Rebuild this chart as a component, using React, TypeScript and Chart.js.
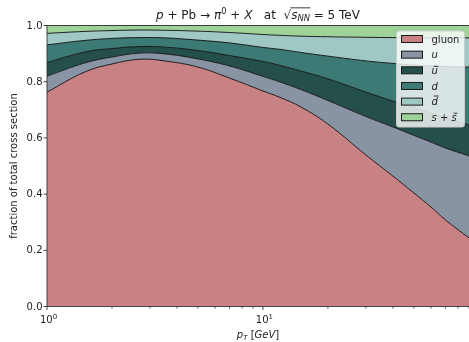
import React, { useEffect, useRef } from "react";
import { Chart, registerables } from "chart.js";

Chart.register(...registerables);

// ---- data (fraction of total cross section) ----
const pT = [1, 1.5, 2, 2.7, 3.5, 5, 7, 10, 12, 15, 20, 30, 40, 50, 60, 70, 90];
const gluonFrac = [0.763, 0.835, 0.863, 0.880, 0.874, 0.852, 0.813, 0.767, 0.744, 0.710, 0.649, 0.539, 0.464, 0.404, 0.354, 0.308, 0.244];
const uFrac = [0.057, 0.032, 0.025, 0.022, 0.025, 0.029, 0.043, 0.052, 0.055, 0.062, 0.084, 0.137, 0.175, 0.205, 0.231, 0.256, 0.292];
const uBarFrac = [0.048, 0.039, 0.030, 0.023, 0.024, 0.030, 0.037, 0.053, 0.059, 0.066, 0.077, 0.087, 0.092, 0.099, 0.104, 0.107, 0.110];
const dFrac = [0.063, 0.041, 0.036, 0.032, 0.033, 0.037, 0.045, 0.050, 0.057, 0.066, 0.081, 0.111, 0.134, 0.151, 0.167, 0.183, 0.206];
const dBarFrac = [0.041, 0.032, 0.028, 0.027, 0.027, 0.032, 0.037, 0.046, 0.050, 0.058, 0.069, 0.084, 0.092, 0.098, 0.100, 0.102, 0.104];
const sFrac = [0.028, 0.021, 0.018, 0.016, 0.017, 0.020, 0.025, 0.032, 0.035, 0.038, 0.040, 0.042, 0.043, 0.043, 0.044, 0.044, 0.044];

const seriesNames = ["gluon", "u", "ū", "d", "d̄", "s + s̄"];
const seriesColors = ["#c98283", "#8893a4", "#244f4b", "#3b7a75", "#9fc8c5", "#9dd398"];

const yTicks = [0, 0.2, 0.4, 0.6, 0.8, 1.0];
const yTickLabels = ["0.0", "0.2", "0.4", "0.6", "0.8", "1.0"];
const xMajorTicks = [1, 10];
const xMajorExponents = ["0", "1"];
const xMinorTicks = [2, 3, 4, 5, 6, 7, 8, 9, 20, 30, 40, 50, 60, 70, 80, 90];

const FONT = '"DejaVu Sans", sans-serif';
const TEXT = "#222222";

type Run = { t: string; it?: boolean; sz?: number; dy?: number; rad?: "start" | "end"; bar?: number };

function fontOf(r: Run, size: number) {
  const s = size * (r.sz || 1);
  return `${r.it ? "italic " : ""}${s}px ${FONT}`;
}

function runsWidth(ctx: CanvasRenderingContext2D, runs: Run[], size: number) {
  let w = 0;
  for (const r of runs) {
    ctx.font = fontOf(r, size);
    w += ctx.measureText(r.t).width;
  }
  return w;
}

function drawRuns(ctx: CanvasRenderingContext2D, runs: Run[], size: number, x0: number, baseline: number, align: "center" | "left") {
  let x = align === "center" ? x0 - runsWidth(ctx, runs, size) / 2 : x0;
  ctx.textAlign = "left";
  ctx.textBaseline = "alphabetic";
  let radStart = 0;
  for (const r of runs) {
    ctx.font = fontOf(r, size);
    const w = ctx.measureText(r.t).width;
    ctx.fillText(r.t, x, baseline + (r.dy || 0));
    if (r.bar) {
      ctx.beginPath();
      ctx.lineWidth = 0.9;
      ctx.strokeStyle = ctx.fillStyle as string;
      const off = r.it ? 1.2 : 0;
      ctx.moveTo(x + 1 + off, baseline - r.bar);
      ctx.lineTo(x + w - 0.5 + off, baseline - r.bar);
      ctx.stroke();
    }
    if (r.rad === "start") radStart = x + w - 0.8;
    x += w;
    if (r.rad === "end") {
      ctx.beginPath();
      ctx.lineWidth = 0.9;
      ctx.strokeStyle = ctx.fillStyle as string;
      const yy = baseline - size * 0.93;
      ctx.moveTo(radStart, yy);
      ctx.lineTo(x + 0.5, yy);
      ctx.stroke();
    }
  }
}

const titleRuns: Run[] = [
  { t: "p", it: true },
  { t: " + Pb → " },
  { t: "π", it: true },
  { t: "0", sz: 0.7, dy: -4.6 },
  { t: " + " },
  { t: "X", it: true },
  { t: "   at  " },
  { t: "√", rad: "start" },
  { t: "s", it: true },
  { t: "NN", it: true, sz: 0.7, dy: 2.4, rad: "end" },
  { t: " = 5 TeV" },
];

const xLabelRuns: Run[] = [
  { t: "p", it: true },
  { t: "T", it: true, sz: 0.7, dy: 2.2 },
  { t: " [" },
  { t: "GeV", it: true },
  { t: "]" },
];

const legendRuns: Run[][] = [
  [{ t: "gluon" }],
  [{ t: "u", it: true }],
  [{ t: "u", it: true, bar: 7.6 }],
  [{ t: "d", it: true }],
  [{ t: "d", it: true, bar: 9.2 }],
  [{ t: "s", it: true }, { t: " + " }, { t: "s", it: true, bar: 7.6 }],
];

const decorPlugin = {
  id: "decor",
  afterDatasetsDraw(chart: any) {
    const ctx: CanvasRenderingContext2D = chart.ctx;
    const a = chart.chartArea;
    const xs = chart.scales.x;
    const ys = chart.scales.y;
    ctx.save();

    // spines
    ctx.strokeStyle = "#333333";
    ctx.lineWidth = 0.9;
    ctx.beginPath();
    ctx.moveTo(a.left, a.top);
    ctx.lineTo(a.left, a.bottom);
    ctx.moveTo(a.left, a.bottom);
    ctx.lineTo(a.right, a.bottom);
    ctx.moveTo(a.left, a.top);
    ctx.lineTo(a.right, a.top);
    ctx.stroke();

    // y ticks
    ctx.fillStyle = TEXT;
    ctx.font = `10px ${FONT}`;
    ctx.textAlign = "right";
    ctx.textBaseline = "middle";
    yTicks.forEach((v, i) => {
      const py = ys.getPixelForValue(v);
      ctx.beginPath();
      ctx.moveTo(a.left - 3.5, py);
      ctx.lineTo(a.left, py);
      ctx.stroke();
      ctx.fillText(yTickLabels[i], a.left - 4.5, py + 0.5);
    });

    // x ticks
    xMajorTicks.forEach((v, i) => {
      const px = xs.getPixelForValue(v);
      ctx.beginPath();
      ctx.moveTo(px, a.bottom);
      ctx.lineTo(px, a.bottom + 3.5);
      ctx.stroke();
      ctx.fillStyle = TEXT;
      drawRuns(ctx, [{ t: "10" }, { t: xMajorExponents[i], sz: 0.7, dy: -4.2 }], 10, px + 1.5, a.bottom + 16.5, "center");
    });
    xMinorTicks.forEach((v) => {
      const px = xs.getPixelForValue(v);
      if (px > a.right + 0.5) return;
      ctx.beginPath();
      ctx.moveTo(px, a.bottom);
      ctx.lineTo(px, a.bottom + 2);
      ctx.stroke();
    });

    // axis labels
    ctx.fillStyle = TEXT;
    drawRuns(ctx, xLabelRuns, 10, (a.left + a.right) / 2, a.bottom + 31, "center");
    ctx.save();
    ctx.translate(17, (a.top + a.bottom) / 2);
    ctx.rotate(-Math.PI / 2);
    ctx.font = `10px ${FONT}`;
    ctx.textAlign = "center";
    ctx.textBaseline = "alphabetic";
    ctx.fillText("fraction of total cross section", 0, 0);
    ctx.restore();

    // title
    drawRuns(ctx, titleRuns, 12, (a.left + a.right) / 2, a.top - 6.5, "center");

    // legend
    const bw = 68, bh = 96;
    const bx = a.right - 4.5 - bw;
    const by = a.top + 5.5;
    ctx.beginPath();
    (ctx as any).roundRect(bx, by, bw, bh, 2.5);
    ctx.fillStyle = "rgba(255,255,255,0.8)";
    ctx.fill();
    ctx.strokeStyle = "#cccccc";
    ctx.lineWidth = 1;
    ctx.stroke();
    seriesNames.forEach((name, i) => {
      const cy = by + 8 + i * 15.65;
      ctx.fillStyle = seriesColors[i];
      ctx.fillRect(bx + 5, cy - 3.5, 21, 7);
      ctx.strokeStyle = "#1a1a1a";
      ctx.lineWidth = 1;
      ctx.strokeRect(bx + 5, cy - 3.5, 21, 7);
      ctx.fillStyle = TEXT;
      drawRuns(ctx, legendRuns[i], 10, bx + 35, cy + 3.6, "left");
    });

    ctx.restore();
  },
};

export default function App() {
  const ref = useRef<HTMLCanvasElement | null>(null);

  useEffect(() => {
    if (!ref.current) return;
    const series = [gluonFrac, uFrac, uBarFrac, dFrac, dBarFrac, sFrac];
    const chart = new Chart(ref.current, {
      type: "line",
      data: {
        datasets: series.map((vals, i) => ({
          label: seriesNames[i],
          data: pT.map((p, j) => ({ x: p, y: vals[j] })),
          backgroundColor: seriesColors[i],
          borderColor: "rgba(20,20,20,0.95)",
          borderWidth: 1,
          pointRadius: 0,
          fill: i === 0 ? "origin" : "-1",
          tension: 0.4,
        })),
      },
      options: {
        responsive: false,
        devicePixelRatio: 1,
        animation: false,
        layout: { padding: { left: 47, right: 0, top: 25.5, bottom: 35.5 } },
        plugins: {
          legend: { display: false },
          tooltip: { enabled: false },
          title: { display: false },
        },
        scales: {
          x: { type: "logarithmic", min: 1, max: 90, display: false },
          y: { type: "linear", min: 0, max: 1, stacked: true, display: false },
        },
      },
      plugins: [decorPlugin],
    });
    return () => chart.destroy();
  }, []);

  return (
    <div style={{ position: "absolute", left: 0, top: 0, width: 469, height: 342, background: "#fff" }}>
      <canvas ref={ref} width={469} height={342} style={{ display: "block" }} />
    </div>
  );
}
